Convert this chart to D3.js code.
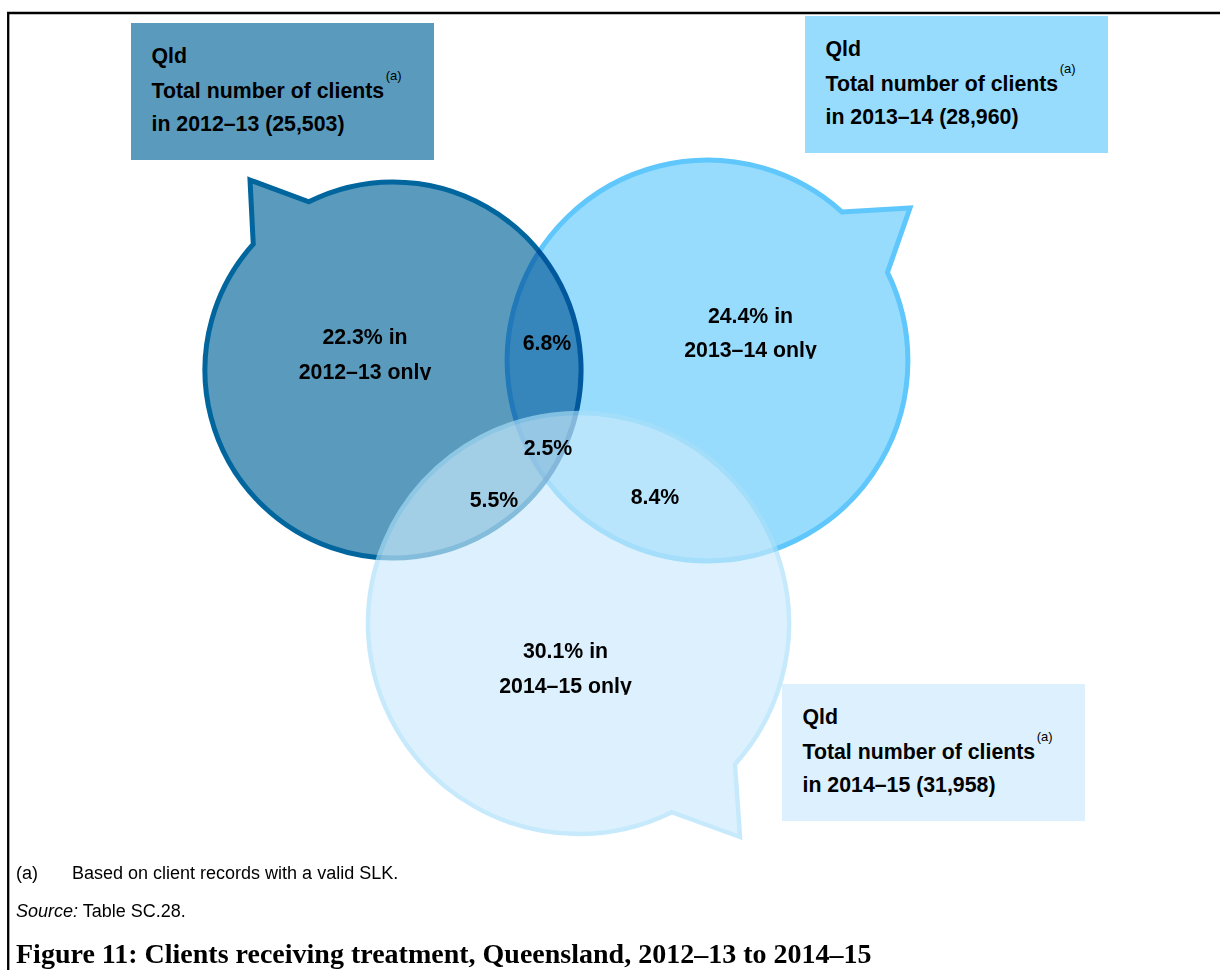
<!DOCTYPE html>
<html>
<head>
<meta charset="utf-8">
<script src="https://cdn.jsdelivr.net/npm/d3@7"></script>
<style>
  html, body { margin: 0; padding: 0; background: #fff; }
  svg { display: block; }
</style>
</head>
<body>
<svg id="chart" width="1220" height="970"></svg>
<script>
// Clients receiving treatment in Queensland, by financial year
const years = ["2012–13", "2013–14", "2014–15"];
const totalClients = [25503, 28960, 31958];
// Per cent of clients seen in one year only
const onlyOneYear = [22.3, 24.4, 30.1];
// Per cent seen in exactly two of the years
const pairYears = [[0, 1], [0, 2], [1, 2]];
const twoYears = [6.8, 5.5, 8.4];
// Per cent seen in all three years
const allThreeYears = 2.5;

const footnote = ["(a)", "Based on client records with a valid SLK."];
const sourceNote = ["Source:", " Table SC.28."];
const figureTitle = "Figure 11: Clients receiving treatment, Queensland, 2012–13 to 2014–15";

const svg = d3.select("#chart");
const FONT = "'Liberation Sans', Arial, sans-serif";
const LABEL_SIZE = 21.3;

// ---- layout --------------------------------------------------------------
// circle area is proportional to the number of clients
const rScale = d3.scaleSqrt().domain([0, d3.max(totalClients)]).range([0, 210.5]);

const layout = [
  { cx: 393,   cy: 370,   tail: [-138, -116.6], tip: [-143, -190],
    fill: "#5a9bbd", stroke: "#02669e", sw: 5,   blend: "normal",   opacity: 1,
    box: [131, 23],  boxFill: "#5a9bbd",
    label: [365, 343.5], label2: [365, 378.5] },
  { cx: 707.5, cy: 360.5, tail: [-47.8, -26.1], tip: [202.5, -152.5],
    fill: "#97dcfd", stroke: "#5fc7fb", sw: 5,   blend: "multiply", opacity: 1,
    box: [805, 16],  boxFill: "#97dcfd",
    label: [750.5, 322.7], label2: [750.5, 357.3] },
  { cx: 578.5, cy: 623.5, tail: [42, 63.7],     tip: [161.5, 213.5],
    fill: "rgb(202,235,252)", stroke: "#a9dff9", sw: 4.5, blend: "normal", opacity: 0.65,
    box: [782, 684], boxFill: "#dcf1fd",
    label: [565.5, 658.3], label2: [565.5, 693.3] }
];

// positions of the overlap labels: [pair 0-1, pair 0-2, pair 1-2], then all three
const pairPos = [[547, 350], [494, 506.7], [655, 504]];
const triplePos = [548, 455];

const rad = d => d * Math.PI / 180;

// speech-bubble outline: circle with a pointed tail between two angles
function bubblePath(i) {
  const L = layout[i];
  const r = rScale(totalClients[i]);
  const a0 = rad(L.tail[1]);          // arc starts at the tail's far edge
  const a1 = rad(L.tail[0]) + 2 * Math.PI;
  const p = d3.path();
  p.moveTo(L.cx + L.tip[0], L.cy + L.tip[1]);
  p.lineTo(L.cx + r * Math.cos(a0), L.cy + r * Math.sin(a0));
  p.arc(L.cx, L.cy, r, a0, a1, false);
  p.closePath();
  return p.toString();
}

// ---- frame ---------------------------------------------------------------
svg.append("path")
  .attr("d", "M1220,13H8.2V970")
  .attr("fill", "none")
  .attr("stroke", "#000")
  .attr("stroke-width", 2.3);

// ---- bubbles -------------------------------------------------------------
svg.append("g").attr("class", "bubbles")
  .selectAll("path")
  .data(years)
  .join("path")
  .attr("d", (d, i) => bubblePath(i))
  .attr("fill", (d, i) => layout[i].fill)
  .attr("stroke", (d, i) => layout[i].stroke)
  .attr("stroke-width", (d, i) => layout[i].sw)
  .attr("stroke-linejoin", "miter")
  .attr("opacity", (d, i) => layout[i].opacity)
  .style("mix-blend-mode", (d, i) => layout[i].blend);

// ---- year boxes ----------------------------------------------------------
const boxes = svg.append("g").attr("class", "boxes")
  .selectAll("g")
  .data(years)
  .join("g")
  .attr("transform", (d, i) => `translate(${layout[i].box[0]},${layout[i].box[1]})`);

boxes.append("rect")
  .attr("width", 303)
  .attr("height", 137)
  .attr("fill", (d, i) => layout[i].boxFill);

const boxText = boxes.append("text")
  .attr("font-family", FONT)
  .attr("font-weight", "bold")
  .attr("font-size", LABEL_SIZE)
  .attr("fill", "#000");

boxText.append("tspan").attr("x", 20.5).attr("y", 40).text("Qld");
boxText.append("tspan").attr("x", 20.5).attr("y", 74.5).text("Total number of clients");
boxText.append("tspan")
  .attr("dx", 1.5).attr("dy", -17.5)
  .attr("font-weight", "normal")
  .attr("font-size", 13)
  .text("(a)");
boxText.append("tspan").attr("x", 20.5).attr("y", 108)
  .text((d, i) => `in ${d} (${d3.format(",")(totalClients[i])})`);

// ---- region labels -------------------------------------------------------
const labels = svg.append("g").attr("class", "labels")
  .attr("font-family", FONT)
  .attr("font-weight", "bold")
  .attr("font-size", LABEL_SIZE)
  .attr("text-anchor", "middle")
  .attr("fill", "#000");

const defs = svg.append("defs");

years.forEach((y, i) => {
  const L = layout[i];
  // the label frame trims everything below the last baseline
  defs.append("clipPath").attr("id", "lblclip" + i)
    .append("rect")
    .attr("x", L.label2[0] - 120).attr("y", L.label[1] - 40)
    .attr("width", 240).attr("height", L.label2[1] - L.label[1] + 41.5);
  const g = labels.append("g").attr("clip-path", `url(#lblclip${i})`);
  g.append("text").attr("x", L.label[0]).attr("y", L.label[1])
    .text(`${onlyOneYear[i]}% in`);
  g.append("text").attr("x", L.label2[0]).attr("y", L.label2[1])
    .text(`${y} only`);
});

labels.selectAll("text.pair")
  .data(twoYears)
  .join("text")
  .attr("class", "pair")
  .attr("x", (d, i) => pairPos[i][0])
  .attr("y", (d, i) => pairPos[i][1])
  .text(d => `${d}%`);

labels.append("text")
  .attr("x", triplePos[0]).attr("y", triplePos[1])
  .text(`${allThreeYears}%`);

// ---- notes and title -----------------------------------------------------
const notes = svg.append("g")
  .attr("font-family", FONT)
  .attr("font-size", 18)
  .attr("fill", "#000");

notes.append("text").attr("x", 16).attr("y", 879).text(footnote[0]);
notes.append("text").attr("x", 72).attr("y", 879).text(footnote[1]);

const src = notes.append("text").attr("x", 16).attr("y", 917);
src.append("tspan").attr("font-style", "italic").text(sourceNote[0]);
src.append("tspan").text(sourceNote[1]);

svg.append("text")
  .attr("x", 16).attr("y", 963)
  .attr("font-family", "'Liberation Serif', 'Times New Roman', serif")
  .attr("font-weight", "bold")
  .attr("font-size", 28)
  .attr("fill", "#000")
  .text(figureTitle);
</script>
</body>
</html>
